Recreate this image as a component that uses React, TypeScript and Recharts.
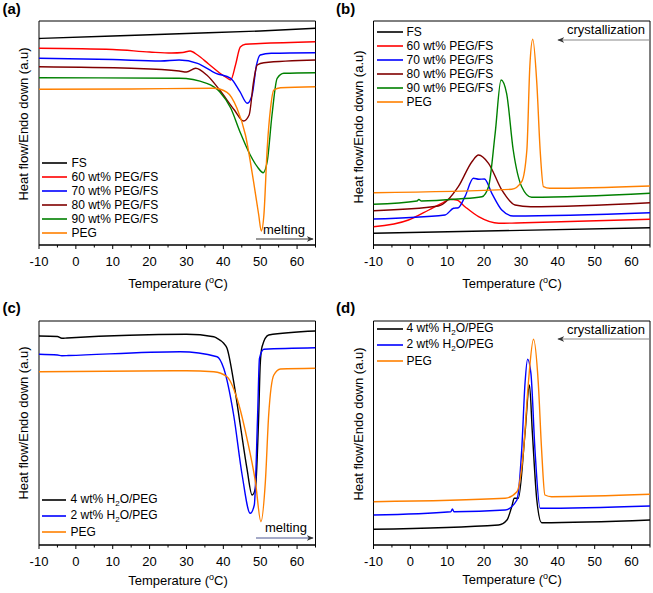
import React from "react";
import { LineChart, Line, XAxis, YAxis, ReferenceArea, Legend } from "recharts";

type Pt = [number, number];

const TEMP_TICKS = [-10, -5, 0, 5, 10, 15, 20, 25, 30, 35, 40, 45, 50, 55, 60, 65];

// (a) melting curves, heat flow in arbitrary units
const A_FS: Pt[] = [[-10, 206.5], [10, 209], [30, 211.5], [50, 214], [65, 216.7]];
const A_60: Pt[] = [[-10, 196.7], [10, 195.5], [20, 193], [26, 192], [29, 192.5], [31, 194], [33, 190], [36, 181], [39, 172], [41, 167], [42, 165], [43.3, 180], [44.6, 198], [46, 200.7], [50, 201.5], [65, 203.3]];
const A_70: Pt[] = [[-10, 186.7], [10, 185.5], [23, 184], [28, 185], [33, 181.7], [38, 171.7], [42, 166.7], [44.5, 153.3], [46.5, 141.7], [47.8, 150], [49, 180], [50, 190], [53, 191.7], [65, 192.3]];
const A_80: Pt[] = [[-10, 178.3], [15, 176.7], [28, 174], [30, 173], [32.5, 176.7], [35.5, 170], [39, 155], [43, 135], [45.5, 124], [47, 130], [48.2, 163.3], [49.2, 180], [51, 182.3], [65, 185]];
const A_90: Pt[] = [[-10, 167.3], [28, 166.7], [35.5, 161.7], [39, 153.3], [42, 137], [44.5, 113.3], [47.3, 90], [49.2, 78.3], [50.8, 72.3], [51.9, 83.3], [53.2, 130], [54.6, 166.7], [56.4, 171.7], [65, 172.3]];
const A_PEG: Pt[] = [[-10, 155.7], [15, 156], [37.4, 156.7], [41, 152.7], [43.7, 136.7], [46, 110], [48.2, 63.3], [49.6, 30], [50.3, 14], [51, 30], [51.9, 96.7], [52.8, 136.7], [53.7, 155], [55.5, 157.3], [65, 158.3]];

// (b) crystallization curves
const B_FS: Pt[] = [[-10, 11.7], [65, 17.3]];
const B_60: Pt[] = [[-10, 18.3], [-0.5, 25], [5, 35], [8.5, 41.7], [10.8, 45.7], [12.6, 45], [14.8, 38.3], [18.5, 28.3], [24, 21.7], [31, 22.3], [65, 25.7]];
const B_70: Pt[] = [[-10, 26], [9.4, 30], [11.7, 36.7], [13, 37.3], [14.8, 48.3], [17.1, 66.7], [18.6, 65.7], [20.1, 66], [22.1, 51.7], [24.8, 35], [27.9, 29], [65, 32.3]];
const B_80: Pt[] = [[-10, 34.3], [7.6, 39], [13, 58.3], [16.7, 83.3], [18.5, 90], [21.2, 81.7], [24.8, 55], [28.4, 40], [32.6, 38.3], [65, 42.3]];
const B_90: Pt[] = [[-10, 40.7], [1.8, 44], [2.3, 45.5], [3, 44], [13, 46], [19.4, 48.3], [21.2, 58.3], [23, 111.7], [24.6, 165], [26.1, 151.7], [27.9, 95], [30.2, 58.3], [32.9, 47.7], [65, 51.7]];
const B_PEG: Pt[] = [[-10, 52.3], [27.5, 55.7], [30.2, 63.3], [31.6, 95], [32.4, 178.3], [33.2, 205.7], [34.3, 161.7], [35.2, 95], [36.1, 58.3], [37.8, 56.7], [65, 59]];

// (c) melting with water
const C_4: Pt[] = [[-10, 209], [-5, 208.5], [-3.8, 206.7], [-2.4, 207], [30, 210.7], [37.4, 208.3], [38.3, 206.7], [40.1, 201.7], [41, 196.7], [42.8, 163.3], [44.6, 120], [46.4, 76.7], [47.8, 50], [48.7, 56.7], [49.6, 130], [50, 180], [50.5, 198.3], [52.3, 210], [65, 214]];
const C_2: Pt[] = [[-10, 190.7], [-5, 190], [-3.8, 189.3], [-2, 189.5], [28.3, 193.3], [38.3, 188.3], [40.1, 176.7], [42.8, 130], [45.1, 70], [47.3, 31.7], [48.4, 40], [49.3, 130], [49.8, 186.7], [51, 195.7], [65, 197.3]];
const C_PEG: Pt[] = [[-10, 173.3], [30, 174.3], [37.4, 173.3], [41, 168.3], [43.7, 146.7], [46.4, 106.7], [48.7, 63.3], [50.2, 23.3], [51.4, 63.3], [52.3, 130], [53.7, 170], [55.5, 176], [65, 176.7]];

// (d) crystallization with water
const D_4: Pt[] = [[-10, 15.7], [23.9, 20], [26.2, 25], [27.5, 38.3], [28.2, 46.7], [29.3, 46.7], [31.1, 111.7], [32.3, 160], [33.1, 111.7], [34.3, 45], [35.6, 22.3], [65, 25]];
const D_2: Pt[] = [[-10, 30], [11, 33.3], [11.4, 36], [11.8, 33.3], [25.7, 35], [28.9, 45], [30.2, 95], [31.1, 161.7], [31.8, 185.7], [32.7, 171.7], [33.8, 95], [35.2, 36.7], [65, 39]];
const D_PEG: Pt[] = [[-10, 43.3], [25.7, 46.7], [28.9, 53.3], [30.7, 95], [32, 161.7], [33.4, 205.7], [34.7, 161.7], [35.6, 95], [36.5, 50], [38.3, 48.3], [65, 50.7]];

const FONT = "'Liberation Sans', Arial, Helvetica, sans-serif";

interface Series {
  name: string;
  color: string;
  pts: Pt[];
}

const PCM_A: Series[] = [
  { name: "FS", color: "#000000", pts: A_FS },
  { name: "60 wt% PEG/FS", color: "#ff0000", pts: A_60 },
  { name: "70 wt% PEG/FS", color: "#0000ff", pts: A_70 },
  { name: "80 wt% PEG/FS", color: "#800000", pts: A_80 },
  { name: "90 wt% PEG/FS", color: "#008000", pts: A_90 },
  { name: "PEG", color: "#ff8000", pts: A_PEG },
];
const PCM_B: Series[] = [
  { name: "FS", color: "#000000", pts: B_FS },
  { name: "60 wt% PEG/FS", color: "#ff0000", pts: B_60 },
  { name: "70 wt% PEG/FS", color: "#0000ff", pts: B_70 },
  { name: "80 wt% PEG/FS", color: "#800000", pts: B_80 },
  { name: "90 wt% PEG/FS", color: "#008000", pts: B_90 },
  { name: "PEG", color: "#ff8000", pts: B_PEG },
];
const H2O_C: Series[] = [
  { name: "4 wt% H2O/PEG", color: "#000000", pts: C_4 },
  { name: "2 wt% H2O/PEG", color: "#0000ff", pts: C_2 },
  { name: "PEG", color: "#ff8000", pts: C_PEG },
];
const H2O_D: Series[] = [
  { name: "4 wt% H2O/PEG", color: "#000000", pts: D_4 },
  { name: "2 wt% H2O/PEG", color: "#0000ff", pts: D_2 },
  { name: "PEG", color: "#ff8000", pts: D_PEG },
];

function TempTick(props: any) {
  const { x, y, payload } = props;
  const major = payload.value % 10 === 0;
  return (
    <g>
      <line x1={x} x2={x} y1={y} y2={y + (major ? 4 : 2.5)} stroke="#000" strokeWidth={1} />
      {major && (
        <text x={x} y={y + 21} textAnchor="middle" fontSize={13} fontFamily={FONT} fill="#000">
          {payload.value}
        </text>
      )}
    </g>
  );
}

function seriesLabel(name: string) {
  const i = name.indexOf("H2O");
  if (i < 0) return name;
  return (
    <>
      {name.slice(0, i)}H<span style={{ fontSize: 8, position: "relative", top: 3 }}>2</span>O{name.slice(i + 3)}
    </>
  );
}

function legendContent(series: Series[], lineLen: number, gap: number, rowH: number) {
  return () => (
    <div style={{ fontFamily: FONT, fontSize: 12, color: "#000", whiteSpace: "nowrap" }}>
      {series.map((s) => (
        <div key={s.name} style={{ display: "flex", alignItems: "center", height: rowH }}>
          <svg width={lineLen} height={4} style={{ marginRight: gap, display: "block" }}>
            <line x1={0} y1={2} x2={lineLen} y2={2} stroke={s.color} strokeWidth={1.6} />
          </svg>
          <span style={{ lineHeight: `${rowH}px` }}>{seriesLabel(s.name)}</span>
        </div>
      ))}
    </div>
  );
}

interface PanelProps {
  left: number;
  top: number;
  width: number;
  plotLeft: number;
  series: Series[];
  legendLeft: number;
  legendTop: number;
  lineLen: number;
  gap: number;
  rowH: number;
}

function Panel({ left, top, width, plotLeft, series, legendLeft, legendTop, lineLen, gap, rowH }: PanelProps) {
  return (
    <div style={{ position: "absolute", left, top }}>
      <LineChart width={width} height={300} margin={{ top: 21, right: width - plotLeft - 276.5, bottom: 25, left: plotLeft }}>
        <XAxis
          type="number"
          dataKey="t"
          domain={[-10, 65]}
          ticks={TEMP_TICKS}
          interval={0}
          allowDataOverflow
          height={30}
          tickSize={0}
          tickMargin={0}
          tickLine={false}
          tick={<TempTick />}
          axisLine={{ stroke: "#000" }}
        />
        <YAxis type="number" domain={[0, 224]} allowDataOverflow hide />
        <ReferenceArea x1={-10} x2={65} y1={0} y2={224} fill="none" fillOpacity={0} stroke="#000" strokeWidth={1} />
        {series.map((s) => (
          <Line
            key={s.name}
            name={s.name}
            data={s.pts.map(([t, v]) => ({ t, v }))}
            dataKey="v"
            type="monotone"
            stroke={s.color}
            strokeWidth={1.4}
            dot={false}
            activeDot={false}
            isAnimationActive={false}
          />
        ))}
        <Legend
          layout="vertical"
          align="center"
          verticalAlign="middle"
          wrapperStyle={{ left: legendLeft, top: legendTop, width: "auto" }}
          content={legendContent(series, lineLen, gap, rowH)}
        />
      </LineChart>
    </div>
  );
}

function YTitle({ x, y }: { x: number; y: number }) {
  return (
    <text x={x} y={y} transform={`rotate(-90 ${x} ${y})`} textAnchor="middle" dominantBaseline="central" fontSize={13} fontFamily={FONT}>
      Heat flow/Endo down (a.u)
    </text>
  );
}

function XTitle({ x, y }: { x: number; y: number }) {
  return (
    <text x={x} y={y} textAnchor="middle" fontSize={13} fontFamily={FONT}>
      Temperature (<tspan fontSize={9} dy={-5}>o</tspan>
      <tspan dy={5}>C)</tspan>
    </text>
  );
}

export default function App() {
  return (
    <div style={{ position: "absolute", left: 0, top: 0, width: 653, height: 593, background: "#fff", overflow: "hidden" }}>
      <Panel left={0} top={0} width={325} plotLeft={39} series={PCM_A} legendLeft={41.5} legendTop={156} lineLen={25} gap={5} rowH={14} />
      <Panel left={325} top={0} width={328} plotLeft={48.5} series={PCM_B} legendLeft={51.5} legendTop={25} lineLen={26} gap={4} rowH={14} />
      <Panel left={0} top={300} width={325} plotLeft={39} series={H2O_C} legendLeft={41.5} legendTop={192} lineLen={24} gap={5} rowH={16} />
      <Panel left={325} top={300} width={328} plotLeft={48.5} series={H2O_D} legendLeft={51.5} legendTop={21} lineLen={26} gap={4} rowH={16} />
      <svg width={653} height={593} style={{ position: "absolute", left: 0, top: 0, pointerEvents: "none" }}>
        <defs>
          <marker id="headDark" viewBox="0 0 10 10" refX="9" refY="5" markerWidth="7" markerHeight="7" orient="auto">
            <path d="M0,1 L10,5 L0,9 L3,5 z" fill="#333" />
          </marker>
          <marker id="headBlue" viewBox="0 0 10 10" refX="9" refY="5" markerWidth="7" markerHeight="7" orient="auto">
            <path d="M0,1 L10,5 L0,9 L3,5 z" fill="#333" />
          </marker>
          <marker id="headGray" viewBox="0 0 10 10" refX="9" refY="5" markerWidth="7" markerHeight="7" orient="auto">
            <path d="M0,1 L10,5 L0,9 L3,5 z" fill="#333" />
          </marker>
        </defs>
        <g fontFamily={FONT} fontWeight="bold" fontSize={15}>
          <text x={2.5} y={14}>(a)</text>
          <text x={336} y={14}>(b)</text>
          <text x={2.5} y={313}>(c)</text>
          <text x={336} y={313}>(d)</text>
        </g>
        <YTitle x={23} y={124} />
        <YTitle x={358} y={127} />
        <YTitle x={23} y={423} />
        <YTitle x={358} y={424} />
        <XTitle x={178} y={288} />
        <XTitle x={512} y={288} />
        <XTitle x={178} y={585} />
        <XTitle x={512} y={584} />
        <g fontFamily={FONT} fontSize={13}>
          <text x={263} y={234}>melting</text>
          <line x1={256} y1={239} x2={313} y2={239} stroke="#333" strokeWidth={1} markerEnd="url(#headDark)" />
          <text x={265} y={532}>melting</text>
          <line x1={256} y1={538} x2={313} y2={538} stroke="#4a5590" strokeWidth={1} markerEnd="url(#headBlue)" />
          <text x={567} y={34}>crystallization</text>
          <line x1={650} y1={40} x2={558} y2={40} stroke="#888" strokeWidth={1} markerEnd="url(#headGray)" />
          <text x={567} y={334}>crystallization</text>
          <line x1={650} y1={339} x2={558} y2={339} stroke="#888" strokeWidth={1} markerEnd="url(#headGray)" />
        </g>
      </svg>
    </div>
  );
}
